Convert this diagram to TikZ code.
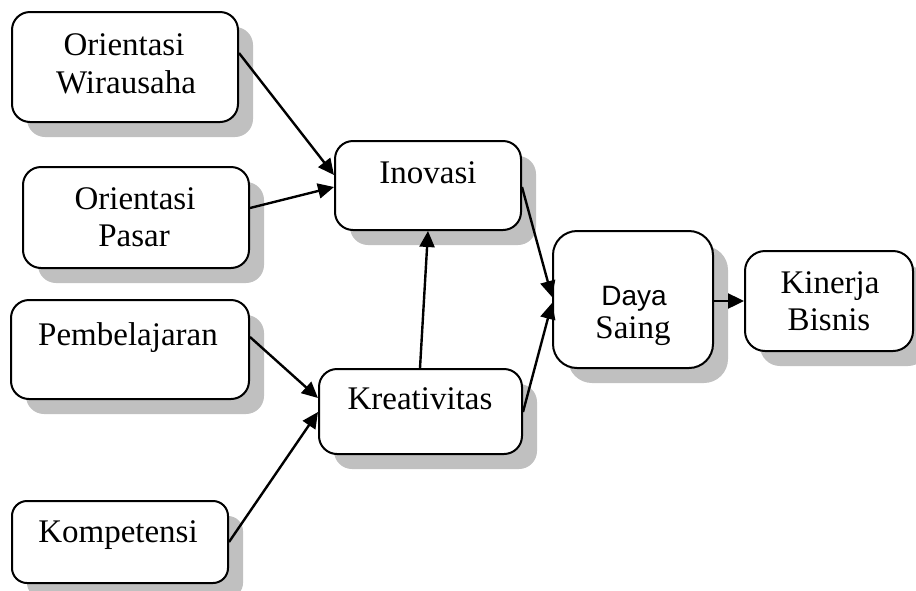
\documentclass[tikz,border=0pt]{standalone}
\usepackage{fontspec}
\setmainfont{Liberation Serif}
\newfontfamily\dayafont{Liberation Sans}
\usetikzlibrary{shadows,arrows.meta}
\definecolor{shadowgray}{RGB}{192,192,192}
\tikzset{
  box/.style={draw=black, line width=2pt, fill=white, rounded corners=18pt,
    inner sep=0pt,
    drop shadow={shadow xshift=15pt, shadow yshift=-15pt, fill=shadowgray, opacity=1}},
  lbl/.style={anchor=base, inner sep=0pt, font=\fontsize{33}{38}\selectfont},
  conn/.style={line width=2.4pt, -{Triangle[length=16pt,width=15pt]}},
}
\begin{document}
\begin{tikzpicture}[x=1pt,y=-1pt]
\useasboundingbox (0,0) rectangle (916,590);
% boxes
\node[box, minimum width=226pt, minimum height=110pt] (ow) at (125,67) {};
\node[box, minimum width=226pt, minimum height=101pt] (op) at (136,217.5) {};
\node[box, minimum width=238pt, minimum height=99pt] (pb) at (130,349.5) {};
\node[box, minimum width=216pt, minimum height=82pt, rounded corners=15pt] (ko) at (120,542) {};
\node[box, minimum width=186pt, minimum height=89pt] (ino) at (428,185.5) {};
\node[box, minimum width=203pt, minimum height=85pt] (kr) at (420.5,411.5) {};
\node[box, minimum width=160pt, minimum height=137pt, rounded corners=24pt] (ds) at (633,299.5) {};
\node[box, minimum width=168pt, minimum height=100pt, rounded corners=20pt] (kb) at (829,301) {};
% texts
\node[lbl] (t1a) at (124,55) {Orientasi};
\node[lbl] (t1b) at (126,93) {Wirausaha};
\node[lbl] (t2a) at (135,209) {Orientasi};
\node[lbl] (t2b) at (134,246) {Pasar};
\node[lbl] (t3) at (128,345) {Pembelajaran};
\node[lbl] (t4) at (118,542) {Kompetensi};
\node[lbl] (t5) at (428,183) {Inovasi};
\node[lbl] (t6) at (420,409) {Kreativitas};
\node[lbl, font=\dayafont\fontsize{28}{32}\selectfont] (t7a) at (634,305) {Daya};
\node[lbl] (t7b) at (633,338) {Saing};
\node[lbl] (t8a) at (830,293) {Kinerja};
\node[lbl] (t8b) at (829,330) {Bisnis};
% connectors
\draw[conn] (ow.east |- 0,53) -- (ino.west |- 0,175);
\draw[conn] (op.east |- 0,208) -- (ino.west |- 0,187);
\draw[conn] (pb.east |- 0,337) -- (kr.west |- 0,398);
\draw[conn] (ko.east |- 0,542) -- (kr.west |- 0,412);
\draw[conn] (kr.north -| 420,0) -- (ino.south -| 428,0);
\draw[conn] (ino.east |- 0,187) -- (ds.west |- 0,297);
\draw[conn] (kr.east |- 0,412) -- (ds.west |- 0,303);
\draw[conn] (ds.east |- 0,301) -- (kb.west |- 0,301);
\end{tikzpicture}
\end{document}
